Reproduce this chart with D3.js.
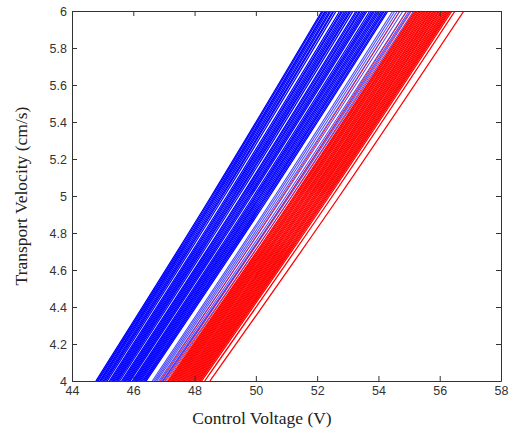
<!DOCTYPE html>
<html>
<head>
<meta charset="utf-8">
<script src="https://cdn.jsdelivr.net/npm/d3@7"></script>
<style>
  body { margin: 0; background: #fff; }
  .axis path, .axis line { stroke: #333; }
  .axis text { font-family: "Liberation Sans", Arial, sans-serif; font-size: 12.5px; fill: #333; }
  .label { font-family: "Liberation Serif", "Times New Roman", serif; font-size: 17.5px; fill: #222; }
</style>
</head>
<body>
<div id="chart"></div>
<script>
let width = 513,
    height = 433;

let margin = {left: 72, right: 12, top: 11, bottom: 52};

let velocities = [4, 5, 6];

// each curve: control voltage at 4, 5 and 6 cm/s
let blueLines = [
  [44.78, 48.55, 52.16], [44.82, 48.59, 52.20], [44.85, 48.64, 52.26], [44.90, 48.68, 52.30],
  [44.93, 48.72, 52.35], [44.97, 48.77, 52.41], [45.02, 48.82, 52.45], [45.06, 48.87, 52.52],
  [45.10, 48.91, 52.55], [45.15, 48.97, 52.62], [45.22, 49.06, 52.74], [45.26, 49.11, 52.80],
  [45.30, 49.15, 52.84], [45.34, 49.20, 52.90], [45.38, 49.25, 52.95], [45.42, 49.29, 53.00],
  [45.46, 49.34, 53.06], [45.50, 49.38, 53.10], [45.55, 49.44, 53.17], [45.62, 49.53, 53.27],
  [45.66, 49.57, 53.32], [45.70, 49.62, 53.38], [45.74, 49.66, 53.42], [45.78, 49.71, 53.48],
  [45.82, 49.76, 53.53], [45.86, 49.80, 53.58], [45.90, 49.85, 53.63], [45.97, 49.93, 53.72],
  [46.01, 49.98, 53.78], [46.05, 50.02, 53.83], [46.09, 50.07, 53.88], [46.13, 50.12, 53.94],
  [46.17, 50.16, 53.99], [46.21, 50.21, 54.04], [46.25, 50.26, 54.10], [46.30, 50.31, 54.15],
  [46.34, 50.35, 54.20], [46.38, 50.40, 54.26], [46.42, 50.45, 54.31]
];

let blueFaintLines = [
  [46.62, 50.62, 54.47], [46.67, 50.68, 54.54], [46.72, 50.75, 54.62], [46.77, 50.82, 54.70],
  [46.83, 50.90, 54.80], [46.90, 50.99, 54.92], [46.95, 51.06, 55.00], [46.98, 51.10, 55.05],
  [47.05, 51.18, 55.15]
];

let redFaintLines = [
  [46.87, 50.87, 54.70], [47.02, 51.06, 54.93], [47.10, 51.17, 55.08]
];

let redLines = [
  [47.14, 51.25, 55.19], [47.18, 51.29, 55.24], [47.22, 51.33, 55.28], [47.26, 51.38, 55.33],
  [47.30, 51.42, 55.37], [47.34, 51.46, 55.42], [47.38, 51.50, 55.46], [47.42, 51.55, 55.51],
  [47.46, 51.59, 55.55], [47.50, 51.63, 55.60], [47.54, 51.67, 55.64], [47.58, 51.72, 55.69],
  [47.62, 51.76, 55.73], [47.66, 51.80, 55.78], [47.70, 51.84, 55.82], [47.74, 51.89, 55.87],
  [47.78, 51.93, 55.91], [47.82, 51.97, 55.96], [47.86, 52.01, 56.00], [47.90, 52.06, 56.05],
  [47.94, 52.10, 56.09], [47.98, 52.14, 56.14], [48.02, 52.18, 56.18], [48.06, 52.23, 56.23],
  [48.10, 52.27, 56.27], [48.14, 52.31, 56.31], [48.18, 52.35, 56.35], [48.23, 52.40, 56.40],
  [48.33, 52.50, 56.50], [48.50, 52.73, 56.79]
];

let xTicks = [44, 46, 48, 50, 52, 54, 56, 58];
let yTicks = [4, 4.2, 4.4, 4.6, 4.8, 5, 5.2, 5.4, 5.6, 5.8, 6];

let innerW = width - margin.left - margin.right,
    innerH = height - margin.top - margin.bottom;

let xScale = d3.scaleLinear().domain([44, 58]).range([0, innerW]);
let yScale = d3.scaleLinear().domain([4, 6]).range([innerH, 0]);

let svg = d3.select("#chart")
              .append('svg')
              .attr('width', width)
              .attr('height', height);

let viz = svg.append('g')
              .attr('transform', 'translate(' + margin.left + ',' + margin.top + ')');

viz.append('clipPath').attr('id', 'clip')
  .append('rect').attr('width', innerW).attr('height', innerH);

// curve through the three read points
let curve = d3.line()
  .x(function(d, i) { return xScale(d); })
  .y(function(d, i) { return yScale(velocities[i]); })
  .curve(d3.curveNatural);

let lines = viz.append('g').attr('clip-path', 'url(#clip)');

function drawSet(data, color, opacity, w) {
  lines.append('g')
    .selectAll('path')
    .data(data)
    .enter()
    .append('path')
    .attr('d', curve)
    .style('fill', 'none')
    .style('stroke', color)
    .style('stroke-opacity', opacity)
    .style('stroke-width', w);
}

drawSet(blueLines, '#0000ff', 1, 1.3);
drawSet(blueFaintLines, '#0000ff', 0.7, 1.1);
drawSet(redFaintLines, '#ff0000', 0.85, 1);
drawSet(redLines, '#ff0000', 1, 1.3);

// Axes, matlab style: ticks pointing in on all four sides
viz.append('g')
  .attr('class', 'x axis')
  .attr('transform', 'translate(0,' + innerH + ')')
  .call(d3.axisBottom(xScale).tickValues(xTicks).tickSizeInner(-5).tickSizeOuter(0).tickPadding(5).tickFormat(d3.format('d')));

viz.append('g')
  .attr('class', 'x axis top')
  .call(d3.axisTop(xScale).tickValues(xTicks).tickSizeInner(-5).tickSizeOuter(0).tickFormat(''));

viz.append('g')
  .attr('class', 'y axis')
  .call(d3.axisLeft(yScale).tickValues(yTicks).tickSizeInner(-5).tickSizeOuter(0).tickPadding(5).tickFormat(function(d){ return d3.format('~g')(d); }));

viz.append('g')
  .attr('class', 'y axis right')
  .attr('transform', 'translate(' + innerW + ',0)')
  .call(d3.axisRight(yScale).tickValues(yTicks).tickSizeInner(-5).tickSizeOuter(0).tickFormat(''));

// axis titles
svg.append('text')
  .attr('class', 'label')
  .attr('x', 262)
  .attr('y', 424)
  .attr('text-anchor', 'middle')
  .text('Control Voltage (V)');

svg.append('text')
  .attr('class', 'label')
  .attr('transform', 'translate(27,196) rotate(-90)')
  .attr('text-anchor', 'middle')
  .text('Transport Velocity (cm/s)');
</script>
</body>
</html>
